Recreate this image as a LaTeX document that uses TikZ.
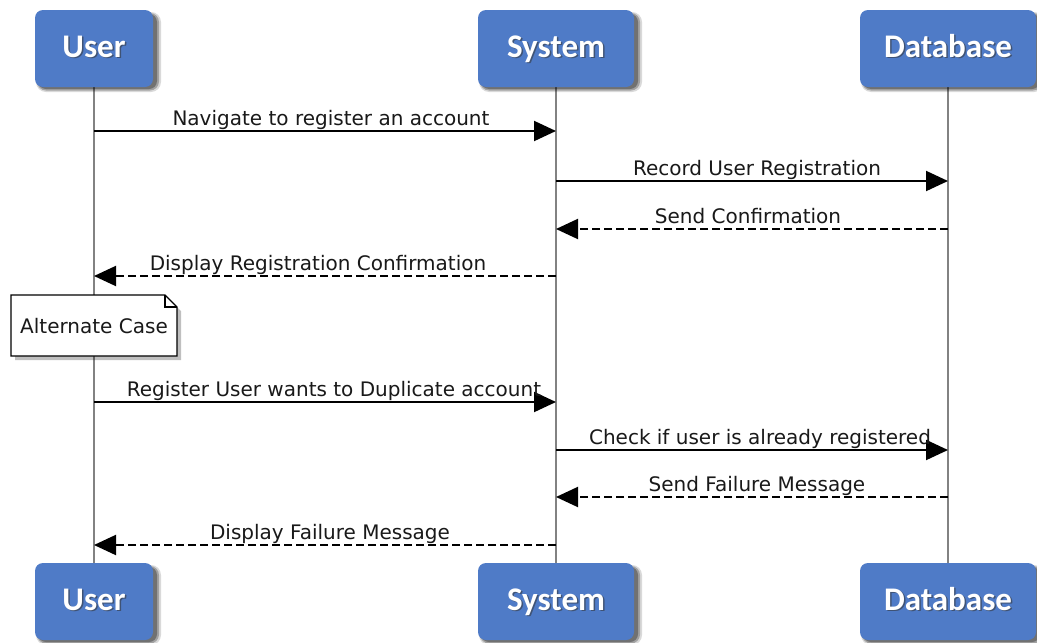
\documentclass[tikz,border=0pt]{standalone}
\usepackage{fontspec}
\setmainfont{DejaVu Sans}
\newfontfamily\boxfont{Carlito}
\usetikzlibrary{arrows.meta,shapes.misc,positioning}
\definecolor{actorblue}{RGB}{79,123,199}
\definecolor{lifegray}{RGB}{130,130,130}
\tikzset{
  actor/.style={draw=none, fill=actorblue, rounded corners=8pt, minimum height=77pt,
    inner sep=0pt},
  actortext/.style={text=white, font=\boxfont\bfseries\fontsize{33}{38}\selectfont, anchor=base, inner sep=0pt},
  lifeline/.style={draw=lifegray, line width=2.2pt},
  msg/.style={draw=black, line width=2pt, -{Triangle[length=22pt,width=20pt]}},
  reply/.style={msg, dash pattern=on 8pt off 4pt},
  lbl/.style={font=\fontsize{20}{24}\selectfont, anchor=base, inner sep=0pt, text=black!90},
}
\newcommand{\actorbox}[5]{% name, x, ycenter, width, text
  \fill[black, opacity=0.15, rounded corners=10pt] (#2-#4/2+1,#3-36.5) rectangle (#2+#4/2+8,#3+43.5);
  \fill[black, opacity=0.25, rounded corners=9pt] (#2-#4/2+2,#3-35.5) rectangle (#2+#4/2+6,#3+42);
  \fill[black, opacity=0.3, rounded corners=8pt] (#2-#4/2+3,#3-34.5) rectangle (#2+#4/2+4,#3+40.5);
  \node[actor, minimum width=#4 pt] (#1) at (#2,#3) {};
  \node[actortext, text=black!80, opacity=0.55] at (#2+1.5,#3+10) {#5};
  \node[actortext] (#1t) at (#2,#3+8.5) {#5};
}
\begin{document}
\begin{tikzpicture}[x=1pt,y=-1pt]
\useasboundingbox (0,0) rectangle (1037,643);
\fill[white] (0,0) rectangle (1037,643);
% lifelines
\coordinate (uT) at (94,87); \coordinate (uB) at (94,563);
\coordinate (sT) at (556,87); \coordinate (sB) at (556,563);
\coordinate (dT) at (948,87); \coordinate (dB) at (948,563);
\draw[lifeline] (uT) -- (uB);
\draw[lifeline] (sT) -- (sB);
\draw[lifeline] (dT) -- (dB);
% actor boxes
\actorbox{user}{94}{48.5}{118}{User}
\actorbox{sys}{556}{48.5}{156}{System}
\actorbox{db}{948}{48.5}{176}{Database}
\actorbox{userb}{94}{601.5}{118}{User}
\actorbox{sysb}{556}{601.5}{156}{System}
\actorbox{dbb}{948}{601.5}{176}{Database}
% message anchor points
\foreach \n/\y in {1/131,2/181,3/229,4/276,5/402,6/450,7/497,8/545}{
  \coordinate (u\n) at (94,\y);
  \coordinate (s\n) at (556,\y);
  \coordinate (d\n) at (948,\y);
}
\draw[msg] (u1) -- (s1) node[lbl, pos=0.5, xshift=6pt, yshift=6pt] {Navigate to register an account};
\draw[msg] (s2) -- (d2) node[lbl, pos=0.5, xshift=5pt, yshift=6pt] {Record User Registration};
\draw[reply] (d3) -- (s3) node[lbl, pos=0.5, xshift=-4pt, yshift=6pt] {Send Confirmation};
\draw[reply] (s4) -- (u4) node[lbl, pos=0.5, xshift=-7pt, yshift=6pt] {Display Registration Confirmation};
% note
\fill[black, opacity=0.25] (15,299) -- (169,299) -- (181,311) -- (181,360) -- (15,360) -- cycle;
\draw[black, line width=1.2pt, fill=white] (11,295) -- (165,295) -- (177,307) -- (177,356) -- (11,356) -- cycle;
\draw[black, line width=1.2pt] (165,295) -- (165,307) -- (177,307);
\node[lbl, anchor=base] (note) at (94,333) {Alternate Case};
\draw[msg] (u5) -- (s5) node[lbl, pos=0.5, xshift=9pt, yshift=6pt] {Register User wants to Duplicate account};
\draw[msg] (s6) -- (d6) node[lbl, pos=0.5, xshift=8pt, yshift=6pt] {Check if user is already registered};
\draw[reply] (d7) -- (s7) node[lbl, pos=0.5, xshift=5pt, yshift=6pt] {Send Failure Message};
\draw[reply] (s8) -- (u8) node[lbl, pos=0.5, xshift=5pt, yshift=6pt] {Display Failure Message};
\end{tikzpicture}
\end{document}
